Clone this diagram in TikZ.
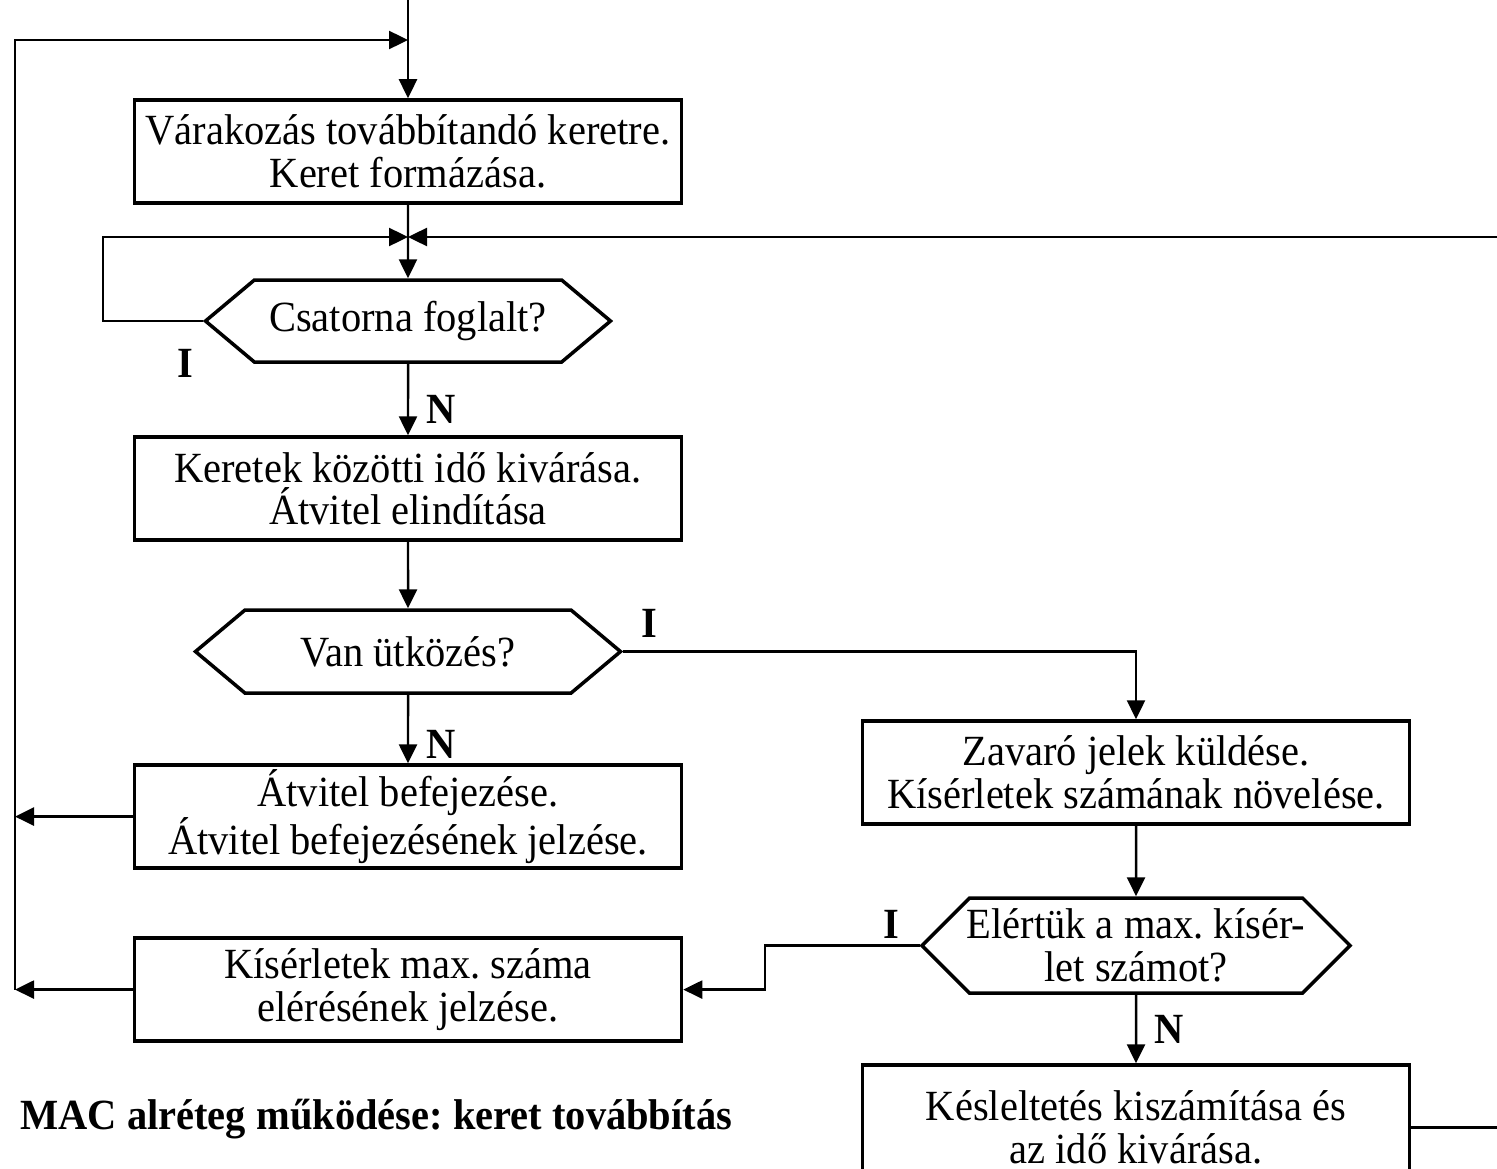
\documentclass[tikz,border=0pt]{standalone}
\usepackage{fontspec}
\setmainfont{Liberation Serif}[FakeStretch=0.94]
\usetikzlibrary{arrows.meta,positioning,shapes.symbols}
\newcommand{\flowfont}{\fontsize{24.5}{24.2}\selectfont\frenchspacing}
\tikzset{
  proc/.style={rectangle, draw, line width=2pt, align=center,
    minimum width=109.4mm, minimum height=20.6mm, inner sep=2pt, font=\flowfont},
  dec/.style={signal, signal to=west and east, signal pointer angle=80,
    draw, line width=2pt, align=center, inner sep=0pt, font=\flowfont},
  lbl/.style={inner sep=0pt, font=\flowfont\bfseries},
  arr/.style={-{Triangle[length=3.8mm, width=3.6mm]}, line width=1.4pt},
  wire/.style={line width=1.4pt},
}
\begin{document}
\begin{tikzpicture}[x=0.2mm, y=-0.2mm, node distance=13.7mm]
  \useasboundingbox (0,0) rectangle (1497,1169);
  % left column
  \node[proc] (wait) at (408,151.5) {Várakozás továbbítandó keretre.\\Keret formázása.};
  \node[dec, below=14.7mm of wait, minimum width=81mm, minimum height=16.4mm] (busy) {Csatorna foglalt?};
  \node[proc, below=14.3mm of busy] (send) {Keretek közötti idő kivárása.\\Átvitel elindítása};
  \node[dec, below=13.3mm of send, minimum width=85mm, minimum height=16.6mm] (coll) {Van ütközés?};
  \node[proc, below=13.7mm of coll] (done) {Átvitel befejezése.\\Átvitel befejezésének jelzése.};
  \node[proc, below=13.3mm of done] (maxed) {Kísérletek max. száma\\elérésének jelzése.};
  % right column
  \node[proc] (jam) at (1136,772.5) {Zavaró jelek küldése.\\Kísérletek számának növelése.};
  \node[dec, below=14.1mm of jam, minimum width=85.6mm, minimum height=19mm,
    signal pointer angle=90] (limit) {\makebox[60mm]{Elértük a max. kísér-}\\let számot?};
  \node[proc, below=13.7mm of limit, minimum height=25mm] (backoff) {Késleltetés kiszámítása és\\az idő kivárása.};
  \node[lbl, anchor=base west] (title) at (20,1129) {MAC alréteg működése: keret továbbítás};

  % helper points
  \coordinate (start) at (408,0);
  \coordinate (jtop) at (408,40);
  \coordinate (jmid) at (408,237);
  \coordinate (lx) at (15,0);
  \coordinate (bx) at (103,0);
  \coordinate (kx) at (765,0);
  \coordinate (rx) at (1497,0);

  \draw[arr] (start) -- (wait);
  \draw[arr] (wait) -- (busy);
  \draw[arr] (busy.west) node[lbl, below left=5.5mm and 1.6mm] (i1) {I} -- (busy.west -| bx) |- (jmid);
  \draw[arr] (jmid -| rx) -- (jmid);
  \draw[arr] (busy) -- (send) node[lbl, pos=0.64, right=3.5mm] (n1) {N};
  \draw[arr] (send) -- (coll);
  \draw[arr] (coll.east) node[lbl, above right=2.5mm and 3.4mm] (i2) {I} -| (jam);
  \draw[arr] (coll) -- (done) node[lbl, pos=0.72, right=3.5mm] (n2) {N};
  \draw[arr] (done.west) -- (done.west -| lx);
  \draw[arr] (maxed.west) -- (maxed.west -| lx);
  \draw[arr] (maxed.west -| lx) |- (jtop);
  \draw[arr] (jam) -- (limit);
  \draw[arr] (limit.west) node[lbl, above left=1.1mm and 3.8mm] (i3) {I} -- (limit.west -| kx) |- (maxed.east);
  \draw[arr] (limit) -- (backoff) node[lbl, pos=0.51, right=3.5mm] (n3) {N};
  \draw[wire] (backoff.east) -- (backoff.east -| rx);
\end{tikzpicture}
\end{document}
